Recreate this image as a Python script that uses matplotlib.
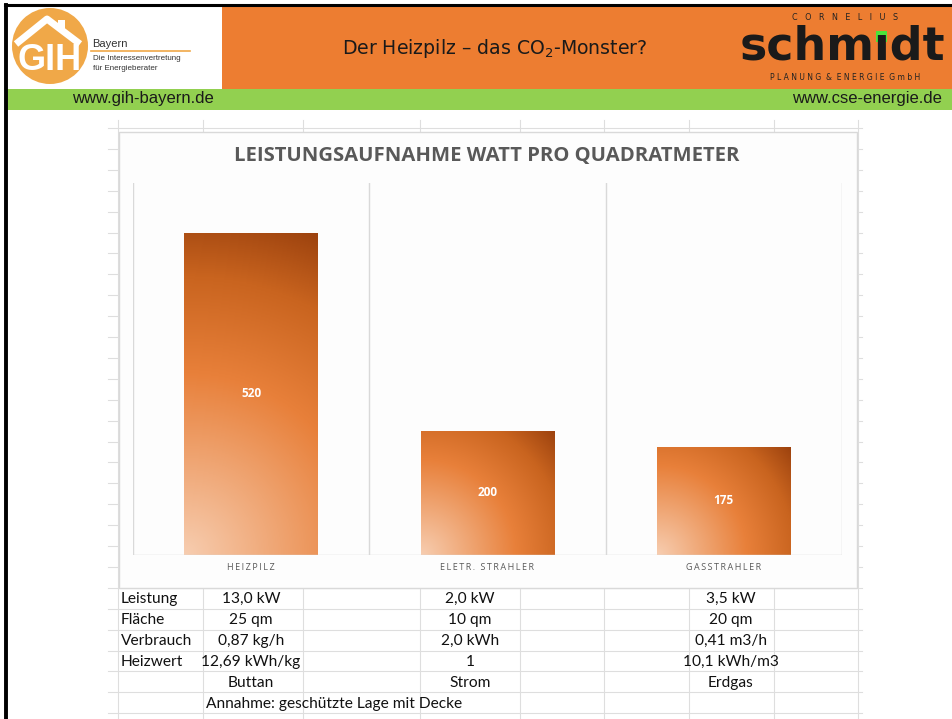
import numpy as np
import matplotlib
matplotlib.use("Agg")
import matplotlib.pyplot as plt
from matplotlib.colors import LinearSegmentedColormap
from matplotlib.patches import Rectangle, Circle

plt.rcParams["mathtext.default"] = "regular"

# --- data ---
categories = ["HEIZPILZ", "ELETR. STRAHLER", "GASSTRAHLER"]
values = [520, 200, 175]

row_labels = ["Leistung", "Fläche", "Verbrauch", "Heizwert", ""]
heizpilz_info = ["13,0 kW", "25 qm", "0,87 kg/h", "12,69 kWh/kg", "Buttan"]
strahler_info = ["2,0 kW", "10 qm", "2,0 kWh", "1", "Strom"]
gas_info = ["3,5 kW", "20 qm", "0,41 m3/h", "10,1 kWh/m3", "Erdgas"]
note = "Annahme: geschützte Lage mit Decke"

W, H = 953, 719
fig = plt.figure(figsize=(W / 100, H / 100), dpi=100)
fig.patch.set_facecolor("white")

# full-page axes in pixel coords (y down)
bg = fig.add_axes([0, 0, 1, 1])
bg.set_xlim(0, W)
bg.set_ylim(H, 0)
bg.axis("off")

orange = "#ED7D31"
green = "#92D050"
grid_c = "#DEDEDE"

# header bands
bg.add_patch(Rectangle((222, 6), W - 222, 83, color=orange, lw=0))
bg.add_patch(Rectangle((7, 89), W - 7, 21, color=green, lw=0))
bg.plot([5, W], [5, 5], color="black", lw=2.2)
bg.plot([6, 6], [5, H], color="black", lw=2.8)

bg.text(495, 48, "Der Heizpilz – das CO$_2$-Monster?", ha="center", va="center",
        fontsize=13.6, color="#1a1a1a", family="DejaVu Sans")
bg.text(72, 99, "www.gih-bayern.de", ha="left", va="center", fontsize=12,
        family="Liberation Sans", color="#1a1a1a")
bg.text(942, 99, "www.cse-energie.de", ha="right", va="center", fontsize=12,
        family="Liberation Sans", color="#1a1a1a")

# GIH logo
bg.add_patch(Circle((50, 46), 38, color="#F0A848", lw=0))
bg.plot([16, 47, 80], [44, 19, 44], color="white", lw=5, solid_capstyle="butt")
bg.add_patch(Rectangle((58, 20), 7, 10, color="white", lw=0))
bg.text(50, 60, "GIH", ha="center", va="center", fontsize=26, fontweight="bold",
        color="white", family="Liberation Sans")
bg.text(92, 44, "Bayern", ha="left", va="center", fontsize=8, color="#333333",
        family="Liberation Sans")
bg.plot([91, 190], [51, 51], color="#F0A848", lw=1.2)
bg.text(93, 59, "Die Interessenvertretung", ha="left", va="center", fontsize=5.8,
        color="#333333", family="Liberation Sans")
bg.text(93, 69, "für Energieberater", ha="left", va="center", fontsize=5.8,
        color="#333333", family="Liberation Sans")

# schmidt logo
bg.text(845, 17, "C   O   R   N   E   L   I   U   S", ha="center", va="center",
        fontsize=5.8, color="#222222", family="DejaVu Sans")
bg.text(842, 47, "schmıdt", ha="center", va="center", fontsize=33,
        fontweight="bold", color="#1a1a1a", family="DejaVu Sans")
bg.add_patch(Rectangle((876, 31), 11, 11, color="#4BE33A", lw=0))
bg.text(845, 77, "P L A N U N G  &  E N E R G I E  G m b H", ha="center",
        va="center", fontsize=5.5, color="#222222", family="DejaVu Sans")

# spreadsheet grid
col_x = [118, 203, 303, 420, 520, 604, 689, 774, 858]
row_y = [128 + 20.9 * k for k in range(29)]
for y in row_y:
    bg.plot([108, 862], [y, y], color=grid_c, lw=0.8, zorder=1)
for x in col_x:
    bg.plot([x, x], [120, H], color=grid_c, lw=0.8, zorder=1)

# chart box
bg.add_patch(Rectangle((119, 132), 738, 456, facecolor="#FDFDFD",
                       edgecolor="#D9D9D9", lw=1, zorder=3))
bg.text(487, 156, "LEISTUNGSAUFNAHME WATT PRO QUADRATMETER", ha="center",
        va="center", fontsize=14.6, fontweight="bold", color="#595959",
        family="Open Sans", zorder=4)

# table text
fs = 11.2
for i, lab in enumerate(row_labels):
    yc = row_y[22 + i] + 11.5
    bg.text(121, yc, lab, ha="left", va="center", fontsize=fs,
            family="Lato", color="#111111", zorder=4)
    bg.text(251, yc, heizpilz_info[i], ha="center", va="center", fontsize=fs,
            family="Lato", color="#111111", zorder=4)
    bg.text(470, yc, strahler_info[i], ha="center", va="center", fontsize=fs,
            family="Lato", color="#111111", zorder=4)
    bg.text(731, yc, gas_info[i], ha="center", va="center", fontsize=fs,
            family="Lato", color="#111111", zorder=4)
bg.text(206, row_y[27] + 11.5, note, ha="left", va="center", fontsize=fs,
        family="Lato", color="#111111", zorder=4)

# --- bar chart ---
ax_l, ax_t, ax_r, ax_b = 133, 183, 842, 555
ax = fig.add_axes([ax_l / W, 1 - ax_b / H, (ax_r - ax_l) / W, (ax_b - ax_t) / H])
ax.patch.set_alpha(0)
ymax = 600
ax.set_xlim(-0.5, 2.5)
ax.set_ylim(0, ymax)
for s in ax.spines.values():
    s.set_visible(False)
ax.set_yticks([])
ax.set_xticks([])
for xb in [-0.5, 0.5, 1.5, 2.5]:
    ax.axvline(xb, color="#D9D9D9", lw=1, zorder=0)
ax.axhline(0, color="#D9D9D9", lw=1, zorder=3)

cmap = LinearSegmentedColormap.from_list(
    "bar", [(0, "#F7CDB0"), (0.52, "#E8803A"), (0.8, "#C9641F"), (1, "#9C420E")])
bw = 0.565
px_x = (ax_r - ax_l) / 3
px_y = (ax_b - ax_t) / ymax
x = np.arange(len(values))
bars = ax.bar(x, values, width=bw, color="none", edgecolor="none", zorder=2)
for xi, v, b in zip(x, values, bars):
    wpx, hpx = bw * px_x, v * px_y
    uu, vv = np.meshgrid(np.linspace(0, wpx, 120), np.linspace(0, hpx, 240))
    r = np.sqrt(uu ** 2 + vv ** 2) / np.hypot(wpx, hpx)
    im = ax.imshow(r, extent=[xi - bw / 2, xi + bw / 2, 0, v], origin="lower",
                   cmap=cmap, vmin=0, vmax=1, aspect="auto", zorder=2,
                   interpolation="bilinear")
    im.set_clip_path(b)
    ax.text(xi, v / 2, str(v), ha="center", va="center", color="white",
            fontsize=8.5, fontweight="bold", family="Open Sans", zorder=4)
ax.set_xlim(-0.5, 2.5)
ax.set_ylim(0, ymax)

for i, c in enumerate(categories):
    bg.text(ax_l + px_x * (i + 0.5), 568, "\u2009".join(c), ha="center",
            va="center", fontsize=6.5, color="#595959",
            family=["Open Sans", "DejaVu Sans"], zorder=4)

fig.savefig("out.png", dpi=100)
